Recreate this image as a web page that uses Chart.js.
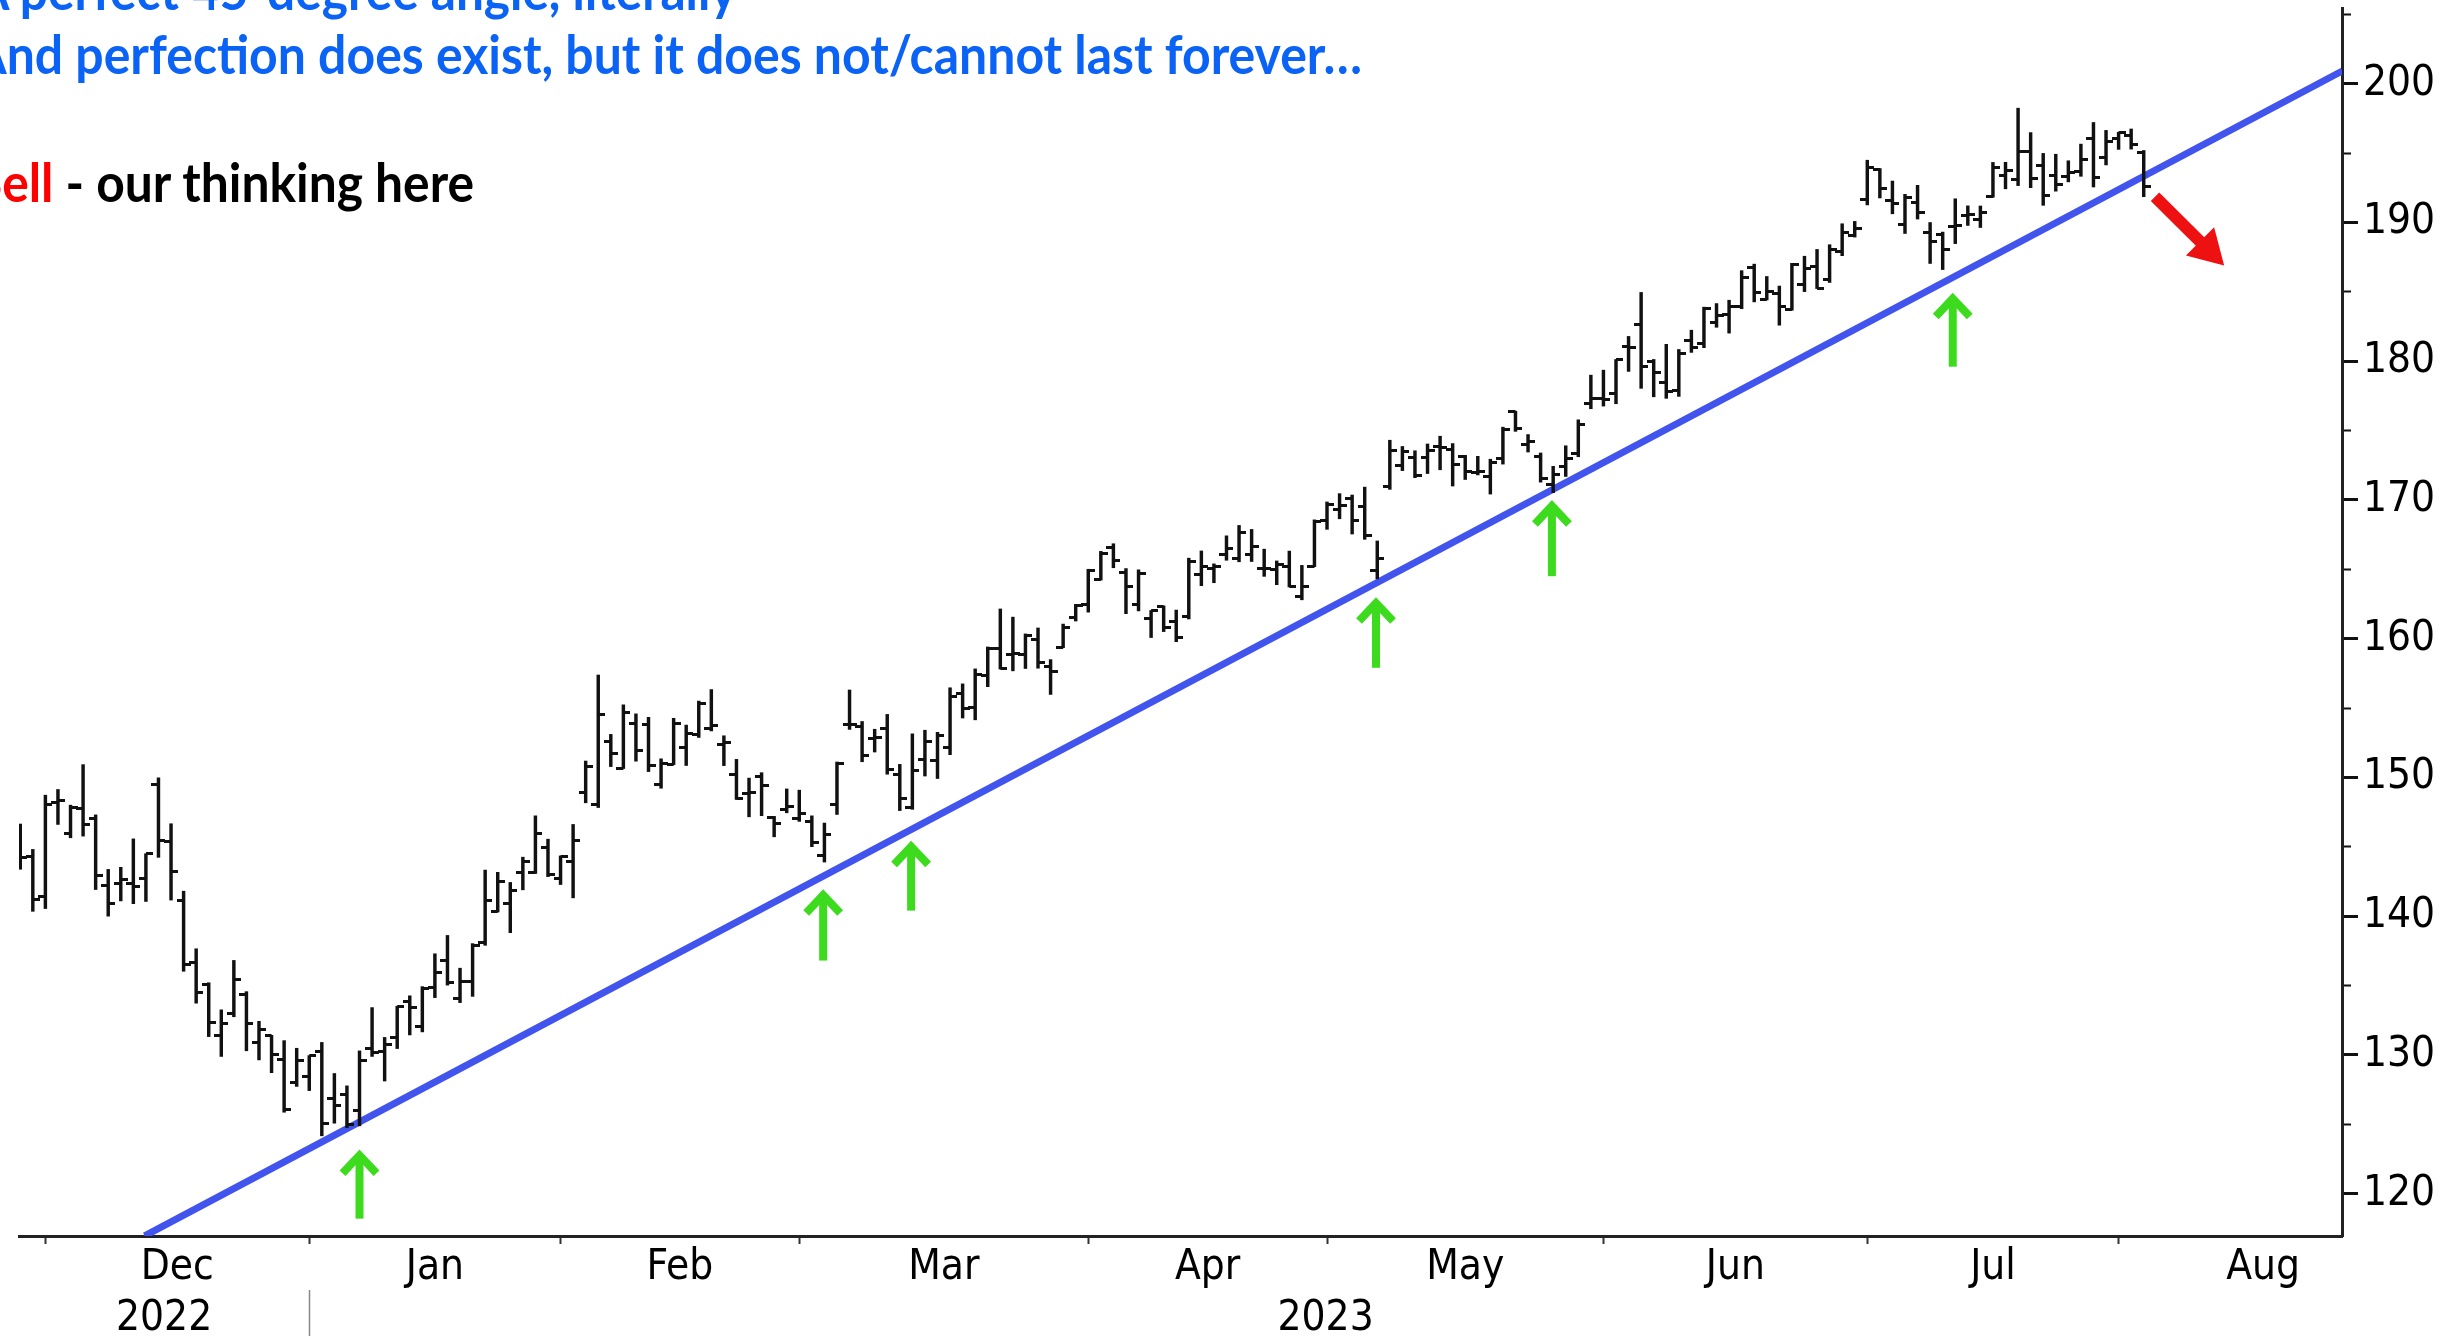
<!DOCTYPE html>
<html>
<head>
<meta charset="utf-8">
<script src="https://cdn.jsdelivr.net/npm/chart.js@4.4.0/dist/chart.umd.min.js"></script>
<style>
  html, body { margin: 0; padding: 0; background: #fff; overflow: hidden; }
  #wrap { position: relative; width: 2462px; height: 1336px; overflow: hidden; }
  #chart { position: absolute; left: 0; top: 0; }
  .note { position: absolute; left: 0; top: 0; white-space: nowrap; font-family: Lato, 'Open Sans', sans-serif;
          font-weight: 700; font-size: 54px; transform-origin: 0 0; }
</style>
</head>
<body>
<div id="wrap">
  <canvas id="chart" width="2462" height="1336"></canvas>
  <div class="note" id="line1" style="color:#0B63F6">A perfect 45-degree angle, literally</div>
  <div class="note" id="line2" style="color:#0B63F6">And perfection does exist, but it does not/cannot last forever…</div>
  <div class="note" id="line3"><span style="color:#FF0000">Sell</span> - our thinking here</div>
</div>
<script>
// daily bars, one per trading session, 28 Nov 2022 .. 2 Aug 2023 (x = session number)
const opens = [145.14,144.29,141.40,148.21,145.96,147.77,147.07,142.19,142.36,142.34,
  142.70,149.50,145.35,141.11,136.69,135.11,131.39,132.98,134.35,130.92,
  131.38,129.67,127.99,128.41,130.28,126.89,127.13,126.01,130.47,130.26,
  131.25,133.88,132.03,134.83,136.82,134.08,135.28,138.12,140.31,140.89,
  143.17,143.16,144.96,142.70,143.97,148.90,148.03,152.57,150.64,153.88,
  153.78,149.46,150.95,152.12,153.11,153.51,152.35,150.20,148.87,150.09,
  147.11,147.71,147.05,146.83,144.38,148.04,153.79,153.70,152.81,153.56,
  150.21,147.81,151.28,151.19,152.16,156.08,155.07,157.32,159.30,158.83,
  158.86,159.94,157.97,159.37,161.53,162.44,164.27,166.60,164.74,162.43,
  161.42,162.35,161.22,161.63,164.59,165.09,166.10,165.80,166.09,165.05,
  165.00,165.19,163.06,165.19,168.49,169.28,170.09,169.50,164.89,170.98,
  172.48,173.05,173.02,173.85,173.62,173.16,171.99,171.71,173.00,176.39,
  173.98,173.13,171.09,172.41,173.32,176.96,177.33,177.70,181.03,182.63,
  179.97,178.44,177.90,181.50,181.27,182.80,183.37,183.96,186.73,184.41,
  184.90,183.74,185.55,186.83,185.89,187.93,189.08,191.63,193.78,191.57,
  189.84,191.41,189.26,189.16,189.68,190.50,190.23,191.90,193.35,193.10,
  195.09,194.10,193.41,193.33,193.67,196.02,194.67,196.06,196.24,195.04];
const highs = [146.64,144.81,148.72,149.13,148.00,150.92,147.30,143.37,143.52,145.57,
  144.50,149.97,146.66,141.80,137.65,135.20,133.25,136.81,134.56,132.42,
  131.41,131.03,130.48,129.95,130.90,128.66,127.77,130.29,133.41,131.26,
  133.51,134.26,134.92,137.29,138.61,136.25,138.02,143.32,143.16,142.43,
  144.25,147.23,145.55,144.34,146.61,151.18,157.38,153.10,155.23,154.58,
  154.33,151.34,154.26,153.77,155.50,156.33,153.00,151.30,149.95,150.34,
  147.19,149.17,149.08,147.23,146.71,151.11,156.30,154.03,153.47,154.54,
  150.94,153.14,153.40,153.25,156.46,156.74,157.82,159.40,162.14,161.55,
  160.34,160.77,158.49,161.05,162.47,165.00,166.29,166.84,165.05,164.96,
  162.03,162.36,162.06,165.80,166.32,165.39,167.41,168.16,167.87,166.45,
  165.60,166.31,165.28,168.56,169.85,170.45,170.35,170.92,167.04,174.30,
  173.85,173.54,174.03,174.59,174.06,173.21,173.14,172.93,175.24,176.39,
  174.71,173.38,172.42,173.90,175.77,178.99,179.35,180.12,181.78,184.95,
  180.12,181.21,180.84,182.23,183.89,184.15,184.39,186.52,186.99,186.10,
  185.41,187.05,187.56,188.05,188.39,189.90,190.07,194.48,193.88,192.98,
  192.02,192.67,189.99,189.30,191.70,191.19,191.18,194.32,194.33,198.23,
  196.47,194.97,194.91,194.44,195.64,197.20,196.63,196.49,196.73,195.18];
const lows = [143.38,140.35,140.55,146.61,145.65,145.77,141.92,140.00,141.10,140.90,
  141.06,144.24,141.16,136.03,133.73,131.32,129.89,132.75,130.30,129.64,
  128.72,125.87,127.73,127.43,124.17,125.08,124.76,124.89,129.89,128.12,
  130.46,131.44,131.66,134.13,135.03,133.77,134.22,137.90,140.30,138.81,
  141.90,143.08,142.85,142.28,141.32,148.17,147.83,150.78,150.64,151.17,
  150.42,149.22,150.92,150.86,152.88,153.35,150.85,148.41,147.16,147.24,
  145.72,147.45,146.83,145.01,143.90,147.33,153.46,151.13,151.83,150.23,
  147.61,147.70,150.10,149.92,151.64,154.28,154.15,156.54,157.81,157.68,
  157.85,157.87,155.98,159.35,161.27,161.91,164.22,165.11,161.80,162.00,
  160.08,160.51,159.78,161.42,163.82,164.03,165.65,165.54,165.56,164.49,
  163.89,163.73,162.80,165.19,167.88,168.64,167.54,167.16,164.31,170.76,
  172.11,171.60,171.90,172.17,171.00,171.47,171.80,170.42,172.58,174.94,
  173.45,171.28,170.52,171.69,173.11,176.57,176.76,176.93,179.26,178.04,
  177.43,177.32,177.46,180.63,180.97,182.44,182.02,183.78,184.27,184.41,
  182.59,183.67,185.01,185.23,185.67,187.60,188.94,191.26,191.76,190.62,
  189.20,190.24,187.04,186.60,188.47,189.78,189.63,191.81,192.42,192.65,
  192.50,191.23,192.25,192.92,193.32,192.55,194.14,195.26,195.28,191.85];
const closes = [144.22,141.17,148.03,148.31,147.81,146.63,142.91,140.94,142.65,142.16,
  144.49,145.47,143.21,136.50,134.51,132.37,132.30,135.45,132.23,131.86,
  130.03,126.04,129.61,129.93,125.07,126.36,125.02,129.62,130.15,130.73,
  133.49,133.41,134.76,135.94,135.21,135.27,137.87,141.11,142.53,141.86,
  143.96,145.93,143.00,144.29,145.43,150.82,154.50,151.73,154.65,151.92,
  150.87,151.01,153.85,153.20,155.33,153.71,152.55,148.48,148.91,149.40,
  146.71,147.92,147.41,145.31,145.91,151.03,153.83,151.60,152.87,150.59,
  148.50,150.47,152.59,152.99,155.85,155.00,157.40,159.28,157.83,158.93,
  160.25,158.28,157.65,160.77,162.36,164.90,166.17,165.63,163.76,164.66,
  162.03,160.80,160.10,165.56,165.21,165.23,166.47,167.63,166.65,165.02,
  165.33,163.77,163.76,168.41,169.68,169.59,168.54,167.45,165.79,173.57,
  173.50,171.77,173.56,173.75,172.57,172.07,172.07,172.69,175.05,175.16,
  174.20,171.56,171.84,172.99,175.43,177.30,177.25,180.09,180.95,179.58,
  179.21,177.82,180.57,180.96,183.79,183.31,183.95,186.01,184.92,185.01,
  183.96,187.00,186.68,185.27,188.06,189.25,189.59,193.97,192.46,191.33,
  191.81,190.68,188.61,188.08,189.77,190.54,190.69,193.99,193.73,195.10,
  193.13,191.94,192.75,193.62,194.50,193.22,195.83,196.45,195.61,192.58];

// month ticks sit on the last session of the previous month
const monthNames = ['Dec', 'Jan', 'Feb', 'Mar', 'Apr', 'May', 'Jun', 'Jul', 'Aug'];
const monthEnds = [2, 23, 43, 62, 85, 104, 126, 147, 167, 190];
const yearNames = ['2022', '2023'];
const yearSplit = 23;
const yMajor = [120, 130, 140, 150, 160, 170, 180, 190, 200];
const yMinor = [125, 135, 145, 155, 165, 175, 185, 195, 205];

// hand drawn annotations, in session / price units
const trendLine = [{x: 9.9, y: 116.96}, {x: 184.8, y: 200.91}];
const upArrows = [
  {x: 27.0, tip: 123.2, tail: 118.2},
  {x: 63.9, tip: 141.95, tail: 136.8},
  {x: 70.9, tip: 145.45, tail: 140.4},
  {x: 107.9, tip: 163.0, tail: 157.9},
  {x: 121.9, tip: 170.0, tail: 164.5},
  {x: 153.8, tip: 184.95, tail: 179.6}
];
const downArrow = {x0: 169.9, y0: 191.85, x1: 175.4, y1: 186.9};

const xMin = -0.1, xMax = 184.78;
const yMin = 116.95, yMax = 205.45;

// month labels go half way between the month ticks
const monthMid = monthNames.map((m, i) => (monthEnds[i] + monthEnds[i + 1]) / 2);
const monthTicks = monthEnds.filter(v => v <= xMax);
const yearMid = [(xMin + yearSplit) / 2, (yearSplit + xMax) / 2];

const axisFont = {family: "'DejaVu Sans Condensed', 'DejaVu Sans', sans-serif", size: 42};

function tickImage(side) {
  const c = document.createElement('canvas');
  c.width = 14;
  c.height = 3;
  const g = c.getContext('2d');
  g.fillStyle = '#111';
  g.fillRect(side == 'left' ? 0 : 7, 0, 7, 3);
  return c;
}

function noPad(s) {
  s.paddingTop = 0;
  s.paddingBottom = 0;
  s.paddingLeft = 0;
  s.paddingRight = 0;
}

const arrowPlugin = {
  id: 'arrows',
  afterDatasetsDraw(chart) {
    const ctx = chart.ctx;
    const xs = chart.scales.x, ys = chart.scales.y;
    ctx.save();
    ctx.strokeStyle = '#3DDB1E';
    ctx.lineWidth = 8;
    ctx.lineJoin = 'miter';
    upArrows.forEach(a => {
      const px = xs.getPixelForValue(a.x);
      const tip = ys.getPixelForValue(a.tip);
      const tail = ys.getPixelForValue(a.tail);
      ctx.beginPath();
      ctx.moveTo(px, tail);
      ctx.lineTo(px, tip + 6);
      ctx.stroke();
      ctx.beginPath();
      ctx.moveTo(px - 17, tip + 24);
      ctx.lineTo(px, tip + 6);
      ctx.lineTo(px + 17, tip + 24);
      ctx.stroke();
    });

    const x0 = xs.getPixelForValue(downArrow.x0), y0 = ys.getPixelForValue(downArrow.y0);
    const x1 = xs.getPixelForValue(downArrow.x1), y1 = ys.getPixelForValue(downArrow.y1);
    const ang = Math.atan2(y1 - y0, x1 - x0);
    const cos = Math.cos(ang), sin = Math.sin(ang);
    ctx.strokeStyle = '#EE1111';
    ctx.fillStyle = '#EE1111';
    ctx.lineWidth = 12;
    ctx.beginPath();
    ctx.moveTo(x0, y0);
    ctx.lineTo(x1 - 24 * cos, y1 - 24 * sin);
    ctx.stroke();
    ctx.beginPath();
    ctx.moveTo(x1, y1);
    ctx.lineTo(x1 - 34 * cos + 20 * sin, y1 - 34 * sin - 20 * cos);
    ctx.lineTo(x1 - 34 * cos - 20 * sin, y1 - 34 * sin + 20 * cos);
    ctx.closePath();
    ctx.fill();
    ctx.restore();
  }
};

const ctx = document.getElementById('chart').getContext('2d');
const chart = new Chart(ctx, {
  type: 'bar',
  data: {
    datasets: [
      {
        type: 'bar', label: 'Range',
        data: lows.map((l, i) => ({x: i, y: [l, highs[i]]})),
        backgroundColor: '#111', barThickness: 2.8,
        xAxisID: 'x', yAxisID: 'y', order: 0
      },
      {
        type: 'line', label: 'Open',
        data: opens.map((v, i) => ({x: i, y: v})),
        showLine: false, pointStyle: tickImage('left'), pointRadius: 7,
        xAxisID: 'x', yAxisID: 'y', order: 0
      },
      {
        type: 'line', label: 'Close',
        data: closes.map((v, i) => ({x: i, y: v})),
        showLine: false, pointStyle: tickImage('right'), pointRadius: 7,
        xAxisID: 'x', yAxisID: 'y', order: 0
      },
      {
        type: 'line', label: 'Trend',
        data: trendLine,
        borderColor: '#4254EE', borderWidth: 7, pointRadius: 0,
        xAxisID: 'x', yAxisID: 'y', order: 1
      }
    ]
  },
  options: {
    responsive: false,
    animation: false,
    devicePixelRatio: 1,
    layout: {padding: {left: 19, top: 8, right: 0, bottom: 0}},
    plugins: {legend: {display: false}, tooltip: {enabled: false}},
    scales: {
      x: {
        type: 'linear', position: 'bottom', offset: false, min: xMin, max: xMax, weight: 0,
        afterBuildTicks: s => { s.ticks = monthTicks.concat(monthMid).map(v => ({value: v})); },
        afterFit: s => { s.height = 54; noPad(s); },
        border: {display: true, color: '#222', width: 3},
        grid: {
          offset: false, drawOnChartArea: false, tickLength: 8, tickWidth: 2,
          tickColor: c => (c.tick && monthEnds.includes(c.tick.value)) ? '#333' : 'rgba(0,0,0,0)'
        },
        ticks: {
          autoSkip: false, maxRotation: 0, padding: -1, color: '#000', font: axisFont,
          callback: v => { const k = monthMid.indexOf(v); return k >= 0 ? monthNames[k] : ''; }
        }
      },
      xYear: {
        type: 'linear', axis: 'x', position: 'bottom', offset: false, min: xMin, max: xMax, weight: 1,
        afterBuildTicks: s => { s.ticks = [yearMid[0], yearSplit, yearMid[1]].map(v => ({value: v})); },
        afterFit: s => { s.height = 46; noPad(s); },
        border: {display: false},
        grid: {
          offset: false, drawOnChartArea: false, tickLength: 46, tickWidth: 1.5,
          tickColor: c => (c.tick && c.tick.value == yearSplit) ? '#888' : 'rgba(0,0,0,0)'
        },
        ticks: {
          autoSkip: false, maxRotation: 0, padding: -42, color: '#000', font: axisFont,
          callback: v => { const k = yearMid.indexOf(v); return k >= 0 ? yearNames[k] : ''; }
        }
      },
      y: {
        type: 'linear', position: 'right', min: yMin, max: yMax, weight: 1,
        afterBuildTicks: s => { s.ticks = yMajor.map(v => ({value: v})); },
        afterFit: s => { s.width = 120; noPad(s); },
        border: {display: true, color: '#222', width: 3},
        grid: {drawOnChartArea: false, tickLength: 16, tickWidth: 3, tickColor: '#111'},
        ticks: {padding: 5, color: '#000', font: axisFont, callback: v => String(v)}
      },
      yMinor: {
        type: 'linear', axis: 'y', position: 'right', min: yMin, max: yMax, weight: 0,
        afterBuildTicks: s => { s.ticks = yMinor.map(v => ({value: v})); },
        afterFit: s => { s.width = 0; noPad(s); },
        border: {display: false},
        grid: {drawOnChartArea: false, tickLength: 9, tickWidth: 2, tickColor: '#111'},
        ticks: {display: false}
      }
    }
  },
  plugins: [arrowPlugin]
});

// the notes are scaled so each line spans the same width as in the picture
const notes = [
  {id: 'line1', start: -25, end: 738, baseline: 10},
  {id: 'line2', start: -28, end: 1362, baseline: 74},
  {id: 'line3', start: -25, end: 475, baseline: 202}
];
const measure = document.createElement('canvas').getContext('2d');
measure.font = "700 54px Lato, 'Open Sans', sans-serif";
notes.forEach(n => {
  const el = document.getElementById(n.id);
  const m = measure.measureText(el.textContent);
  const asc = m.fontBoundingBoxAscent, desc = m.fontBoundingBoxDescent;
  el.style.lineHeight = (asc + desc) + 'px';
  el.style.left = n.start + 'px';
  el.style.top = (n.baseline - asc) + 'px';
  el.style.transform = 'scaleX(' + ((n.end - n.start) / m.width).toFixed(4) + ')';
});
</script>
</body>
</html>
